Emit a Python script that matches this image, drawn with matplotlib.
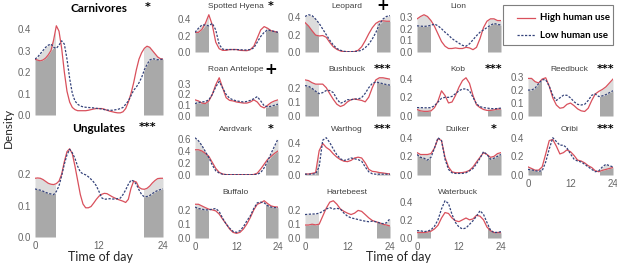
import numpy as np
import matplotlib
matplotlib.use("Agg")
import matplotlib.pyplot as plt
from matplotlib.patches import Rectangle
from matplotlib.lines import Line2D

# ---------------- data ----------------
hours = list(range(25))
hours_half = [i * 0.5 for i in range(49)]

carnivores_high = [0.26,0.255,0.252,0.256,0.265,0.28,0.30,0.35,0.415,0.39,0.31,0.20,0.11,0.06,0.035,0.025,0.02,0.02,0.02,0.02,0.022,0.025,0.028,0.03,0.03,0.03,0.027,0.022,0.018,0.015,0.012,0.01,0.01,0.015,0.03,0.06,0.10,0.15,0.21,0.26,0.29,0.31,0.32,0.315,0.30,0.285,0.27,0.262,0.26]
carnivores_low = [0.26,0.27,0.285,0.30,0.315,0.325,0.33,0.315,0.31,0.325,0.345,0.33,0.26,0.17,0.10,0.065,0.05,0.042,0.038,0.036,0.035,0.034,0.033,0.031,0.03,0.028,0.025,0.023,0.022,0.022,0.024,0.026,0.03,0.035,0.05,0.065,0.09,0.115,0.13,0.15,0.175,0.21,0.235,0.255,0.262,0.26,0.257,0.258,0.26]
ungulates_high = [0.187,0.188,0.187,0.183,0.177,0.171,0.168,0.167,0.170,0.178,0.200,0.240,0.272,0.281,0.265,0.225,0.180,0.135,0.105,0.093,0.093,0.097,0.108,0.120,0.130,0.136,0.139,0.138,0.133,0.128,0.124,0.120,0.117,0.114,0.110,0.120,0.155,0.178,0.175,0.158,0.153,0.152,0.155,0.162,0.172,0.180,0.186,0.187,0.187]
ungulates_low = [0.153,0.151,0.149,0.146,0.142,0.139,0.137,0.135,0.145,0.163,0.195,0.232,0.262,0.279,0.268,0.250,0.225,0.207,0.201,0.198,0.192,0.184,0.175,0.163,0.145,0.125,0.120,0.121,0.122,0.121,0.121,0.122,0.124,0.135,0.150,0.168,0.181,0.178,0.168,0.150,0.135,0.128,0.129,0.132,0.138,0.144,0.148,0.151,0.153]

hyena_high = [0.24,0.24,0.276,0.35,0.455,0.33,0.12,0.04,0.02,0.02,0.03,0.03,0.03,0.02,0.018,0.016,0.03,0.07,0.17,0.27,0.31,0.29,0.26,0.25,0.24]
hyena_low = [0.24,0.29,0.33,0.33,0.32,0.35,0.27,0.09,0.035,0.03,0.03,0.03,0.03,0.028,0.025,0.025,0.03,0.05,0.12,0.19,0.24,0.27,0.26,0.25,0.24]
leopard_high = [0.34,0.30,0.245,0.195,0.185,0.19,0.17,0.11,0.06,0.03,0.012,0.004,0.002,0.002,0.004,0.02,0.06,0.13,0.21,0.28,0.33,0.355,0.36,0.355,0.355]
leopard_low = [0.41,0.43,0.42,0.38,0.33,0.265,0.2,0.135,0.08,0.04,0.02,0.008,0.004,0.004,0.006,0.01,0.02,0.05,0.09,0.15,0.225,0.32,0.38,0.41,0.42]
lion_high = [0.284,0.305,0.32,0.305,0.27,0.22,0.155,0.09,0.05,0.03,0.03,0.035,0.03,0.03,0.04,0.035,0.02,0.04,0.115,0.21,0.265,0.285,0.285,0.27,0.27]
lion_low = [0.225,0.222,0.22,0.222,0.23,0.24,0.225,0.2,0.17,0.145,0.115,0.095,0.075,0.057,0.05,0.07,0.105,0.14,0.17,0.19,0.21,0.23,0.245,0.237,0.232]
roan_high = [0.15,0.14,0.12,0.115,0.14,0.2,0.29,0.355,0.26,0.17,0.145,0.14,0.13,0.125,0.12,0.12,0.13,0.15,0.13,0.09,0.075,0.1,0.125,0.14,0.15]
roan_low = [0.115,0.125,0.13,0.135,0.15,0.2,0.27,0.32,0.26,0.2,0.165,0.15,0.14,0.135,0.13,0.135,0.145,0.16,0.18,0.14,0.095,0.085,0.09,0.1,0.11]
bushbuck_high = [0.255,0.25,0.235,0.225,0.225,0.225,0.2,0.157,0.117,0.083,0.067,0.077,0.1,0.115,0.12,0.115,0.11,0.1,0.133,0.2,0.255,0.27,0.27,0.265,0.26]
bushbuck_low = [0.215,0.21,0.195,0.175,0.158,0.165,0.18,0.18,0.165,0.12,0.09,0.1,0.115,0.115,0.12,0.12,0.13,0.16,0.2,0.23,0.24,0.235,0.228,0.222,0.218]
kob_high = [0.07,0.055,0.05,0.05,0.055,0.09,0.16,0.27,0.22,0.14,0.15,0.22,0.31,0.38,0.41,0.35,0.22,0.12,0.09,0.07,0.06,0.06,0.065,0.075,0.075]
kob_low = [0.09,0.09,0.088,0.088,0.09,0.11,0.15,0.19,0.2,0.2,0.21,0.24,0.27,0.29,0.29,0.27,0.2,0.13,0.1,0.09,0.085,0.08,0.078,0.08,0.085]
reedbuck_high = [0.29,0.29,0.265,0.255,0.285,0.295,0.23,0.14,0.085,0.06,0.065,0.09,0.1,0.08,0.055,0.04,0.035,0.06,0.12,0.17,0.19,0.205,0.225,0.255,0.285]
reedbuck_low = [0.2,0.2,0.215,0.25,0.28,0.28,0.23,0.16,0.12,0.14,0.16,0.16,0.14,0.11,0.09,0.085,0.09,0.12,0.16,0.17,0.15,0.155,0.165,0.18,0.195]
aardvark_high = [0.42,0.42,0.4,0.36,0.31,0.21,0.11,0.044,0.016,0.006,0.005,0.005,0.005,0.005,0.005,0.005,0.005,0.008,0.03,0.1,0.18,0.26,0.31,0.36,0.4]
aardvark_low = [0.62,0.57,0.49,0.39,0.29,0.165,0.07,0.033,0.012,0.006,0.005,0.005,0.005,0.005,0.005,0.005,0.005,0.006,0.012,0.04,0.12,0.23,0.36,0.48,0.6]
warthog_high = [0.012,0.012,0.02,0.03,0.3,0.39,0.34,0.31,0.26,0.22,0.19,0.17,0.165,0.18,0.21,0.22,0.21,0.15,0.07,0.045,0.04,0.03,0.025,0.018,0.012]
warthog_low = [0.01,0.01,0.012,0.015,0.1,0.43,0.46,0.4,0.32,0.25,0.2,0.18,0.19,0.21,0.2,0.19,0.17,0.1,0.04,0.015,0.01,0.01,0.01,0.01,0.01]
duiker_high = [0.24,0.22,0.22,0.22,0.23,0.29,0.39,0.37,0.19,0.086,0.034,0.024,0.024,0.026,0.034,0.05,0.086,0.14,0.19,0.24,0.22,0.19,0.2,0.23,0.24]
duiker_low = [0.22,0.19,0.18,0.16,0.19,0.29,0.4,0.37,0.17,0.06,0.024,0.017,0.017,0.017,0.024,0.045,0.07,0.12,0.18,0.25,0.22,0.17,0.18,0.2,0.22]
oribi_high = [0.087,0.07,0.052,0.052,0.087,0.226,0.37,0.38,0.31,0.226,0.24,0.27,0.25,0.21,0.16,0.15,0.13,0.1,0.08,0.045,0.035,0.05,0.06,0.07,0.08]
oribi_low = [0.06,0.055,0.045,0.04,0.045,0.14,0.28,0.4,0.36,0.32,0.32,0.29,0.226,0.17,0.15,0.14,0.115,0.087,0.06,0.035,0.045,0.087,0.115,0.1,0.087]
buffalo_high = [0.24,0.24,0.228,0.216,0.205,0.2,0.193,0.17,0.134,0.1,0.064,0.04,0.033,0.04,0.064,0.1,0.146,0.2,0.24,0.25,0.265,0.245,0.228,0.222,0.22]
buffalo_low = [0.22,0.21,0.205,0.2,0.2,0.205,0.21,0.188,0.14,0.1,0.07,0.047,0.04,0.052,0.08,0.122,0.158,0.21,0.25,0.255,0.25,0.23,0.22,0.216,0.216]
hartebeest_high = [0.094,0.094,0.1,0.095,0.1,0.158,0.216,0.26,0.27,0.245,0.21,0.193,0.18,0.17,0.18,0.2,0.193,0.17,0.146,0.127,0.118,0.11,0.1,0.094,0.087]
hartebeest_low = [0.17,0.172,0.174,0.174,0.18,0.193,0.21,0.22,0.21,0.215,0.21,0.18,0.158,0.146,0.14,0.134,0.127,0.122,0.118,0.122,0.118,0.11,0.104,0.11,0.14]
waterbuck_high = [0.06,0.06,0.06,0.065,0.075,0.1,0.14,0.22,0.28,0.27,0.22,0.19,0.18,0.2,0.22,0.2,0.21,0.25,0.24,0.2,0.12,0.08,0.06,0.06,0.058]
waterbuck_low = [0.08,0.08,0.07,0.075,0.09,0.13,0.2,0.32,0.41,0.38,0.26,0.17,0.12,0.1,0.11,0.15,0.19,0.24,0.3,0.26,0.17,0.086,0.06,0.062,0.07]

x_ticks = [0, 12, 24]
night_end = 3.8
night_start = 20.4

# ---------------- style / layout ----------------
W, H = 617, 264
RED = "#d9505c"
BLUE = "#34427a"
DARK = "#a9a9a9"
LIGHT = "#dcdcdc"
TICK_C = "#666666"
TICKFONT = "Liberation Sans"

fig = plt.figure(figsize=(W / 100, H / 100), dpi=100)
fig.patch.set_facecolor("white")

cols = [(195, 278), (305, 390), (417, 501), (528, 613)]
rows = [(14, 52), (77, 116), (137, 175), (200, 238)]


def panel(xr, yr, t, hi, lo, ystep, title, mark, show_x, big=False):
    l, r = xr
    top, bot = yr
    ax = fig.add_axes([l / W, 1 - bot / H, (r - l) / W, (bot - top) / H])
    t = np.asarray(t, float)
    hi = np.asarray(hi, float)
    lo = np.asarray(lo, float)
    ymax = max(hi.max(), lo.max()) * 1.02
    ax.set_xlim(0, 24)
    ax.set_ylim(0, ymax)
    lower = np.minimum(hi, lo)
    upper = np.maximum(hi, lo)
    for a, b in [(0, night_end), (night_start, 24)]:
        f1 = ax.fill_between(t, 0, lower, color=DARK, lw=0)
        f1.set_clip_path(Rectangle((a, 0), b - a, ymax, transform=ax.transData))
        f2 = ax.fill_between(t, lower, upper, color=LIGHT, lw=0)
        f2.set_clip_path(Rectangle((a, 0), b - a, ymax, transform=ax.transData))
    ax.plot(t, hi, color=RED, lw=0.9)
    ax.plot(t, lo, color=BLUE, lw=0.9, ls=(0, (1.8, 1.2)))
    for s in ax.spines.values():
        s.set_visible(False)
    yt = np.arange(0, ymax + 1e-9, ystep)
    ax.set_yticks(yt)
    ax.set_yticklabels([f"{v:.1f}" for v in yt])
    ax.set_xticks(x_ticks)
    if show_x:
        ax.set_xticklabels([str(v) for v in x_ticks])
    else:
        ax.set_xticklabels([])
    ax.tick_params(length=0, pad=3, labelsize=7, labelcolor=TICK_C)
    for lab in ax.get_xticklabels() + ax.get_yticklabels():
        lab.set_fontfamily(TICKFONT)
    cx = (l + r) / 2
    if big:
        ty = top - 16 if top < 100 else top - 19
        fig.text(cx / W, 1 - ty / H, title, ha="center", va="center",
                 fontsize=8.5, fontweight="bold", family="Lato", color="black")
        if mark:
            fig.text((r - 15) / W, 1 - (ty - 1) / H, mark, ha="center", va="center",
                     fontsize=8, fontweight="bold", color="black")
    else:
        ty = top - 7.5
        fig.text((cx - 1) / W, 1 - ty / H, title, ha="center", va="center",
                 fontsize=6.0, family=TICKFONT, color="#404040")
        if mark:
            fs = 11 if mark == "+" else 8
            fig.text((r - 7) / W, 1 - (ty - 0.5) / H, mark, ha="center", va="center",
                     fontsize=fs, fontweight="bold", color="black")
    return ax


# big panels
panel((35, 163), (24, 115), hours_half, carnivores_high, carnivores_low, 0.1,
      "Carnivores", "*", False, big=True)
panel((35, 163), (147, 237), hours_half, ungulates_high, ungulates_low, 0.1,
      "Ungulates", "***", True, big=True)

# small panels
panel(cols[0], rows[0], hours, hyena_high, hyena_low, 0.2, "Spotted Hyena", "*", False)
panel(cols[1], rows[0], hours, leopard_high, leopard_low, 0.2, "Leopard", "+", False)
panel(cols[2], rows[0], hours, lion_high, lion_low, 0.1, "Lion", "", False)

panel(cols[0], rows[1], hours, roan_high, roan_low, 0.1, "Roan Antelope", "+", False)
panel(cols[1], rows[1], hours, bushbuck_high, bushbuck_low, 0.1, "Bushbuck", "***", False)
panel(cols[2], rows[1], hours, kob_high, kob_low, 0.2, "Kob", "***", False)
panel(cols[3], rows[1], hours, reedbuck_high, reedbuck_low, 0.1, "Reedbuck", "***", False)

panel(cols[0], rows[2], hours, aardvark_high, aardvark_low, 0.2, "Aardvark", "*", False)
panel(cols[1], rows[2], hours, warthog_high, warthog_low, 0.2, "Warthog", "***", False)
panel(cols[2], rows[2], hours, duiker_high, duiker_low, 0.2, "Duiker", "*", False)
panel(cols[3], rows[2], hours, oribi_high, oribi_low, 0.2, "Oribi", "***", True)

panel(cols[0], rows[3], hours, buffalo_high, buffalo_low, 0.1, "Buffalo", "", True)
panel(cols[1], rows[3], hours, hartebeest_high, hartebeest_low, 0.1, "Hartebeest", "", True)
panel(cols[2], rows[3], hours, waterbuck_high, waterbuck_low, 0.2, "Waterbuck", "", True)

# axis labels
fig.text(8 / W, 1 - 128 / H, "Density", rotation=90, ha="center", va="center",
         fontsize=8.5, family="Lato", color="#262626")
fig.text(100 / W, 1 - 257 / H, "Time of day", ha="center", va="center",
         fontsize=9, family="Lato", color="#262626")
fig.text(398 / W, 1 - 257 / H, "Time of day", ha="center", va="center",
         fontsize=9, family="Lato", color="#262626")

# legend (drawn manually in figure pixels)
box = Rectangle((503 / W, 1 - 45 / H), 110 / W, 40 / H, transform=fig.transFigure,
                facecolor="white", edgecolor="#7f7f7f", lw=0.8)
fig.add_artist(box)
fig.add_artist(Line2D([517 / W, 535 / W], [1 - 18 / H, 1 - 18 / H], transform=fig.transFigure,
                      color=RED, lw=0.9))
fig.add_artist(Line2D([517 / W, 535 / W], [1 - 35 / H, 1 - 35 / H], transform=fig.transFigure,
                      color=BLUE, lw=0.9, ls=(0, (1.8, 1.2))))
fig.text(540 / W, 1 - 18 / H, "High human use", ha="left", va="center",
         fontsize=7, fontweight="bold", family="Lato", color="black")
fig.text(540 / W, 1 - 35 / H, "Low human use", ha="left", va="center",
         fontsize=7, fontweight="bold", family="Lato", color="black")

fig.savefig("out.png", dpi=100, facecolor="white")
